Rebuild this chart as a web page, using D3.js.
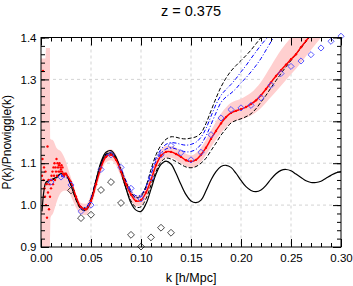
<!DOCTYPE html>
<html>
<head>
<meta charset="utf-8">
<script src="https://cdn.jsdelivr.net/npm/d3@7"></script>
<style>
  body { margin: 0; background: #fff; }
  svg { display: block; font-family: "Liberation Sans", Arial, sans-serif; }
</style>
</head>
<body>
<svg id="canvas" width="353" height="286"></svg>
<script>
// theory wiggle (black solid)
let kTheory = [0.001, 0.003, 0.005, 0.010, 0.015, 0.020, 0.025, 0.030, 0.035, 0.040,
  0.045, 0.050, 0.055, 0.060, 0.065, 0.070, 0.075, 0.080, 0.085, 0.090,
  0.095, 0.100, 0.105, 0.110, 0.115, 0.120, 0.125, 0.130, 0.135, 0.140,
  0.145, 0.150, 0.155, 0.160, 0.165, 0.170, 0.175, 0.180, 0.185, 0.190,
  0.195, 0.200, 0.205, 0.210, 0.215, 0.220, 0.225, 0.230, 0.235, 0.240,
  0.245, 0.250, 0.255, 0.260, 0.265, 0.270, 0.275, 0.280, 0.285, 0.290,
  0.295, 0.300]
let pTheory = [0.985, 1.035, 1.055, 1.060, 1.066, 1.075, 1.074, 1.048, 1.015, 0.992,
  0.989, 1.010, 1.058, 1.103, 1.126, 1.130, 1.115, 1.080, 1.040, 1.005,
  0.988, 0.985, 1.003, 1.038, 1.074, 1.097, 1.105, 1.098, 1.076, 1.049,
  1.025, 1.010, 1.006, 1.012, 1.034, 1.060, 1.080, 1.092, 1.095, 1.090,
  1.076, 1.059, 1.044, 1.035, 1.032, 1.036, 1.047, 1.062, 1.075, 1.083,
  1.085, 1.082, 1.074, 1.066, 1.058, 1.054, 1.054, 1.057, 1.064, 1.071,
  1.077, 1.080]

// black dashed upper / lower
let kDashHi = [0.005, 0.010, 0.015, 0.020, 0.025, 0.030, 0.035, 0.040, 0.045, 0.050,
  0.055, 0.060, 0.065, 0.070, 0.075, 0.080, 0.085, 0.090, 0.095, 0.100,
  0.105, 0.110, 0.115, 0.120, 0.125, 0.130, 0.135, 0.140, 0.145, 0.150,
  0.155, 0.160, 0.165, 0.170, 0.175, 0.180, 0.185, 0.190, 0.195, 0.200,
  0.205, 0.210, 0.215, 0.220, 0.225]
let pDashHi = [1.055, 1.060, 1.066, 1.075, 1.073, 1.050, 1.017, 0.995, 0.993, 1.015,
  1.060, 1.100, 1.122, 1.125, 1.112, 1.085, 1.055, 1.030, 1.018, 1.022,
  1.045, 1.085, 1.120, 1.143, 1.157, 1.163, 1.162, 1.159, 1.158, 1.160,
  1.163, 1.172, 1.195, 1.225, 1.255, 1.282, 1.303, 1.320, 1.333, 1.345,
  1.357, 1.370, 1.385, 1.400, 1.415]
let kDashLo = [0.005, 0.010, 0.015, 0.020, 0.025, 0.030, 0.035, 0.040, 0.045, 0.050,
  0.055, 0.060, 0.065, 0.070, 0.075, 0.080, 0.085, 0.090, 0.095, 0.100,
  0.105, 0.110, 0.115, 0.120, 0.125, 0.130, 0.135, 0.140, 0.145, 0.150,
  0.155, 0.160, 0.165, 0.170, 0.175, 0.180, 0.185, 0.190, 0.195, 0.200,
  0.205, 0.210, 0.215, 0.220, 0.225, 0.230, 0.235, 0.240, 0.245, 0.250,
  0.255, 0.260, 0.265, 0.270]
let pDashLo = [1.050, 1.058, 1.064, 1.072, 1.070, 1.046, 1.012, 0.990, 0.988, 1.008,
  1.052, 1.095, 1.120, 1.124, 1.110, 1.078, 1.040, 1.010, 0.995, 0.996,
  1.015, 1.048, 1.080, 1.103, 1.112, 1.110, 1.104, 1.097, 1.091, 1.089,
  1.092, 1.100, 1.112, 1.130, 1.148, 1.167, 1.182, 1.196, 1.202, 1.206,
  1.211, 1.218, 1.230, 1.246, 1.262, 1.280, 1.297, 1.314, 1.330, 1.345,
  1.360, 1.375, 1.390, 1.405]

// blue dash-dot pair
let kBlueHi = [0.020, 0.025, 0.030, 0.035, 0.040, 0.045, 0.050, 0.055, 0.060, 0.065,
  0.070, 0.075, 0.080, 0.085, 0.090, 0.095, 0.100, 0.105, 0.110, 0.115,
  0.120, 0.125, 0.130, 0.135, 0.140, 0.145, 0.150, 0.155, 0.160, 0.165,
  0.170, 0.175, 0.180, 0.185, 0.190, 0.195, 0.200, 0.205, 0.210, 0.215,
  0.220, 0.225, 0.230]
let pBlueHi = [1.070, 1.068, 1.050, 1.020, 0.997, 0.995, 1.018, 1.060, 1.098, 1.120,
  1.124, 1.112, 1.088, 1.058, 1.035, 1.022, 1.025, 1.045, 1.080, 1.112,
  1.133, 1.145, 1.149, 1.148, 1.145, 1.143, 1.145, 1.150, 1.162, 1.183,
  1.212, 1.240, 1.262, 1.276, 1.288, 1.302, 1.318, 1.333, 1.350, 1.366,
  1.382, 1.396, 1.410]
let kBlueLo = [0.020, 0.025, 0.030, 0.035, 0.040, 0.045, 0.050, 0.055, 0.060, 0.065,
  0.070, 0.075, 0.080, 0.085, 0.090, 0.095, 0.100, 0.105, 0.110, 0.115,
  0.120, 0.125, 0.130, 0.135, 0.140, 0.145, 0.150, 0.155, 0.160, 0.165,
  0.170, 0.175, 0.180, 0.185, 0.190, 0.195, 0.200, 0.205, 0.210, 0.215,
  0.220, 0.225, 0.230, 0.235]
let pBlueLo = [1.068, 1.066, 1.048, 1.017, 0.994, 0.992, 1.014, 1.056, 1.094, 1.117,
  1.122, 1.110, 1.085, 1.054, 1.030, 1.017, 1.020, 1.040, 1.073, 1.105,
  1.124, 1.134, 1.137, 1.134, 1.130, 1.127, 1.128, 1.133, 1.145, 1.165,
  1.192, 1.220, 1.245, 1.258, 1.267, 1.278, 1.292, 1.304, 1.318, 1.333,
  1.350, 1.370, 1.390, 1.410]

// measured mean (red) and its error band (pink)
let kMean = [0.025, 0.030, 0.035, 0.040, 0.045, 0.050, 0.055, 0.060, 0.065, 0.070,
  0.075, 0.080, 0.085, 0.090, 0.095, 0.100, 0.105, 0.110, 0.115, 0.120,
  0.125, 0.130, 0.135, 0.140, 0.145, 0.150, 0.155, 0.160, 0.165, 0.170,
  0.175, 0.180, 0.185, 0.190, 0.195, 0.200, 0.205, 0.210, 0.215, 0.220,
  0.225, 0.230, 0.235, 0.240, 0.245, 0.250, 0.255, 0.260, 0.265, 0.270]
let pMean = [1.075, 1.055, 1.020, 0.995, 0.990, 1.010, 1.050, 1.090, 1.115, 1.120,
  1.108, 1.080, 1.050, 1.025, 1.010, 1.012, 1.030, 1.060, 1.095, 1.118,
  1.127, 1.127, 1.122, 1.115, 1.107, 1.104, 1.108, 1.120, 1.137, 1.158,
  1.177, 1.195, 1.210, 1.220, 1.225, 1.229, 1.234, 1.241, 1.250, 1.262,
  1.277, 1.293, 1.308, 1.322, 1.335, 1.348, 1.360, 1.377, 1.392, 1.408]
let kBand = [0.000, 0.0045, 0.005, 0.009, 0.0095, 0.012, 0.016, 0.020, 0.024, 0.028,
  0.032, 0.036, 0.040, 0.045, 0.050, 0.055, 0.060, 0.065, 0.070, 0.075,
  0.080, 0.085, 0.090, 0.095, 0.100, 0.105, 0.110, 0.115, 0.120, 0.125,
  0.130, 0.140, 0.150, 0.160, 0.170, 0.180, 0.190, 0.200, 0.210, 0.220,
  0.230, 0.240, 0.250, 0.260, 0.270, 0.280]
let bandLo = [0.900, 0.900, 0.900, 0.900, 0.970, 0.980, 1.010, 1.030, 1.035, 1.030,
  1.010, 0.990, 0.978, 0.976, 0.995, 1.036, 1.077, 1.102, 1.107, 1.095,
  1.067, 1.037, 1.012, 0.997, 0.999, 1.016, 1.046, 1.081, 1.104, 1.113,
  1.113, 1.100, 1.089, 1.103, 1.138, 1.172, 1.196, 1.204, 1.214, 1.232,
  1.258, 1.285, 1.312, 1.340, 1.370, 1.400]
let bandHi = [1.350, 1.350, 1.375, 1.375, 1.158, 1.155, 1.135, 1.128, 1.110, 1.080,
  1.050, 1.022, 1.005, 1.003, 1.025, 1.064, 1.103, 1.128, 1.133, 1.121,
  1.093, 1.063, 1.038, 1.023, 1.025, 1.044, 1.074, 1.109, 1.132, 1.141,
  1.141, 1.130, 1.119, 1.137, 1.178, 1.218, 1.244, 1.254, 1.268, 1.294,
  1.332, 1.370, 1.400, 1.425, 1.440, 1.450]

// noisy low-k red points
let kNoise = [0.0010, 0.0015, 0.0020, 0.0025, 0.0030, 0.0035, 0.0040, 0.0045, 0.0050, 0.0055,
  0.0060, 0.0065, 0.0070, 0.0075, 0.0080, 0.0085, 0.0090, 0.0095, 0.0100, 0.0105,
  0.0110, 0.0115, 0.0120, 0.0125, 0.0130, 0.0135, 0.0140, 0.0145, 0.0150, 0.0155,
  0.0160, 0.0165, 0.0170, 0.0175, 0.0180, 0.0185, 0.0190, 0.0195, 0.0200, 0.0205,
  0.0210, 0.0215, 0.0220, 0.0230, 0.0240]
let pNoise = [1.070, 1.110, 1.320, 1.060, 1.090, 1.040, 1.020, 1.080, 1.000, 1.050,
  0.970, 1.140, 1.030, 1.060, 0.990, 1.050, 1.020, 1.060, 1.040, 1.070,
  1.060, 1.080, 1.050, 1.090, 1.070, 1.100, 1.060, 1.090, 1.080, 1.110,
  1.070, 1.100, 1.090, 1.080, 1.095, 1.100, 1.080, 1.090, 1.085, 1.095,
  1.080, 1.090, 1.075, 1.070, 1.075]

// diamonds
let kBlueDia = [0.01, 0.02, 0.03, 0.04, 0.05, 0.06, 0.07, 0.08, 0.09, 0.10,
  0.11, 0.12, 0.13, 0.14, 0.15, 0.16, 0.17, 0.18, 0.19, 0.20,
  0.21, 0.22, 0.23, 0.24, 0.25, 0.26, 0.27, 0.28, 0.29, 0.30]
let pBlueDia = [1.055, 1.067, 1.048, 0.985, 1.000, 1.085, 1.120, 1.090, 1.040, 1.015,
  1.065, 1.120, 1.142, 1.125, 1.108, 1.126, 1.168, 1.208, 1.228, 1.232,
  1.238, 1.256, 1.286, 1.314, 1.331, 1.344, 1.359, 1.375, 1.391, 1.403]
let kBlackDia = [0.03, 0.04, 0.05, 0.06, 0.07, 0.08, 0.09, 0.10, 0.11, 0.12, 0.13]
let pBlackDia = [1.035, 0.969, 0.977, 1.036, 1.055, 1.005, 0.929, 0.901, 0.923, 0.946, 0.934]

let xMajor = [0.00, 0.05, 0.10, 0.15, 0.20, 0.25, 0.30]
let yMajor = [0.9, 1.0, 1.1, 1.2, 1.3, 1.4]

let mLeft = 41, mRight = 341, mTop = 37.5, mBottom = 247

let x = d3.scaleLinear().domain([0, 0.30]).range([mLeft, mRight])
let y = d3.scaleLinear().domain([0.9, 1.4]).range([mBottom, mTop])

let canvas = d3.select("#canvas")

let zip = (ks, ps) => ks.map((k, i) => [k, ps[i]])

canvas.append("clipPath").attr("id", "plotclip")
  .append("rect")
  .attr("x", mLeft).attr("y", mTop)
  .attr("width", mRight - mLeft).attr("height", mBottom - mTop)

// grid
let grid = canvas.append("g")
grid.selectAll("line.gx")
  .data(xMajor.slice(1, -1))
  .enter().append("line")
  .attr("x1", d => x(d)).attr("x2", d => x(d))
  .attr("y1", mTop).attr("y2", mBottom)
grid.selectAll("line.gy")
  .data(yMajor.slice(1, -1))
  .enter().append("line")
  .attr("y1", d => y(d)).attr("y2", d => y(d))
  .attr("x1", mLeft).attr("x2", mRight)
grid.selectAll("line")
  .attr("stroke", "#c8c8c8")
  .attr("stroke-width", 0.8)
  .attr("stroke-dasharray", "3,3")

let plot = canvas.append("g").attr("clip-path", "url(#plotclip)")

let area = d3.area()
  .x(d => x(d[0]))
  .y0(d => y(d[1]))
  .y1(d => y(d[2]))
  .curve(d3.curveMonotoneX)

plot.append("path")
  .datum(kBand.map((k, i) => [k, bandLo[i], bandHi[i]]))
  .attr("d", area)
  .attr("fill", "#ffcfcf")

let line = d3.line()
  .x(d => x(d[0]))
  .y(d => y(d[1]))
  .curve(d3.curveCatmullRom)

let drawLine = (data, color, dash, width) => {
  plot.append("path")
    .datum(data)
    .attr("d", line)
    .attr("fill", "none")
    .attr("stroke", color)
    .attr("stroke-width", width)
    .attr("stroke-dasharray", dash)
}

drawLine(zip(kBlueHi, pBlueHi), "#0000ff", "4,2,1,2", 1)
drawLine(zip(kBlueLo, pBlueLo), "#0000ff", "4,2,1,2", 1)
drawLine(zip(kDashHi, pDashHi), "#000", "4,2", 1)
drawLine(zip(kDashLo, pDashLo), "#000", "4,2", 1)
drawLine(zip(kTheory, pTheory), "#000", null, 1.2)
drawLine(zip(kMean, pMean), "#ff0000", null, 1.5)

plot.selectAll("circle.mean")
  .data(zip(kMean, pMean).concat(zip(kNoise, pNoise)))
  .enter().append("circle")
  .attr("cx", d => x(d[0]))
  .attr("cy", d => y(d[1]))
  .attr("r", 1.2)
  .attr("fill", "#ff0000")

let diamondType = d3.symbolDiamond2 || {
  draw: function(ctx, size) {
    let r = Math.sqrt(size / 2)
    ctx.moveTo(0, -r); ctx.lineTo(r, 0); ctx.lineTo(0, r); ctx.lineTo(-r, 0); ctx.closePath()
  }
}

canvas.append("g").selectAll("path")
  .data(zip(kBlueDia, pBlueDia))
  .enter().append("path")
  .attr("transform", d => "translate(" + x(d[0]) + "," + y(d[1]) + ")")
  .attr("d", d3.symbol().type(diamondType).size(24))
  .attr("fill", "none")
  .attr("stroke", "#4a4aff")
  .attr("stroke-width", 0.9)

canvas.append("g").selectAll("path")
  .data(zip(kBlackDia, pBlackDia))
  .enter().append("path")
  .attr("transform", d => "translate(" + x(d[0]) + "," + y(d[1]) + ")")
  .attr("d", d3.symbol().type(diamondType).size(30))
  .attr("fill", "none")
  .attr("stroke", "#333")
  .attr("stroke-width", 0.9)

// axes with inward ticks on all four sides
let xMinor = d3.range(0, 31).map(i => i / 100)
let yMinor = d3.range(45, 71).map(i => i / 50)

let styleAxis = (g) => {
  g.select(".domain").remove()
  g.selectAll(".tick line").attr("stroke", "#000")
  g.selectAll(".tick text")
    .attr("fill", "#000")
    .style("font-size", "11.5px")
    .style("font-family", "'Liberation Sans', Arial, sans-serif")
}

canvas.append("g").attr("transform", "translate(0," + mBottom + ")")
  .call(d3.axisBottom(x).tickValues(xMinor).tickSize(-4).tickFormat("")).call(styleAxis)
canvas.append("g").attr("transform", "translate(0," + mBottom + ")")
  .call(d3.axisBottom(x).tickValues(xMajor).tickSize(-8).tickPadding(6.5).tickFormat(d3.format(".2f"))).call(styleAxis)
canvas.append("g").attr("transform", "translate(0," + mTop + ")")
  .call(d3.axisTop(x).tickValues(xMinor).tickSize(-4).tickFormat("")).call(styleAxis)
canvas.append("g").attr("transform", "translate(0," + mTop + ")")
  .call(d3.axisTop(x).tickValues(xMajor).tickSize(-8).tickFormat("")).call(styleAxis)

canvas.append("g").attr("transform", "translate(" + mLeft + ",0)")
  .call(d3.axisLeft(y).tickValues(yMinor).tickSize(-4).tickFormat("")).call(styleAxis)
canvas.append("g").attr("transform", "translate(" + mLeft + ",0)")
  .call(d3.axisLeft(y).tickValues(yMajor).tickSize(-8).tickPadding(4.5).tickFormat(d3.format(".1f"))).call(styleAxis)
canvas.append("g").attr("transform", "translate(" + mRight + ",0)")
  .call(d3.axisRight(y).tickValues(yMinor).tickSize(-4).tickFormat("")).call(styleAxis)
canvas.append("g").attr("transform", "translate(" + mRight + ",0)")
  .call(d3.axisRight(y).tickValues(yMajor).tickSize(-8).tickFormat("")).call(styleAxis)

canvas.append("rect")
  .attr("x", mLeft).attr("y", mTop)
  .attr("width", mRight - mLeft).attr("height", mBottom - mTop)
  .attr("fill", "none")
  .attr("stroke", "#000")
  .attr("stroke-width", 1)

canvas.append("text")
  .attr("x", (mLeft + mRight) / 2)
  .attr("y", 15.5)
  .attr("text-anchor", "middle")
  .style("font-size", "14.5px")
  .text("z = 0.375")

canvas.append("text")
  .attr("x", (mLeft + mRight) / 2)
  .attr("y", 282)
  .attr("text-anchor", "middle")
  .style("font-size", "12.5px")
  .text("k [h/Mpc]")

canvas.append("text")
  .attr("transform", "translate(11," + ((mTop + mBottom) / 2) + ") rotate(-90)")
  .attr("text-anchor", "middle")
  .style("font-size", "12px")
  .text("P(k)/Pnowiggle(k)")
</script>
</body>
</html>
